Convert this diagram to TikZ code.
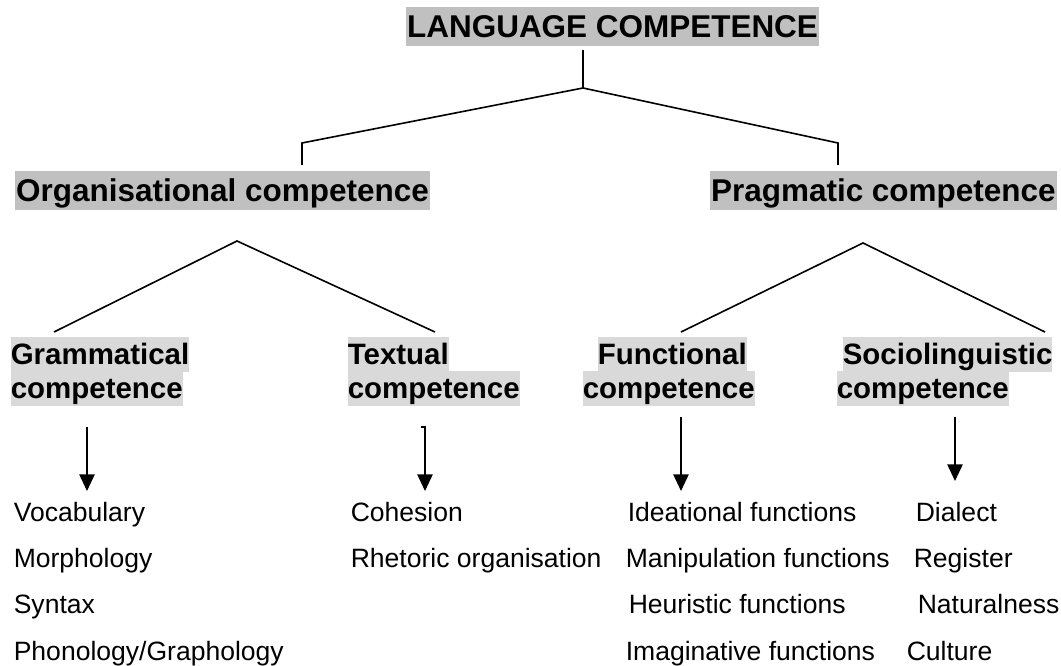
\documentclass[tikz,border=0pt]{standalone}
\usepackage{fontspec}
\setmainfont{Liberation Sans}
\usepackage{tikz}
\usetikzlibrary{arrows.meta}
\definecolor{hlDark}{RGB}{192,192,192}
\definecolor{hlLight}{RGB}{217,217,217}

\begin{document}
\begin{tikzpicture}[x=0.75pt, y=-0.75pt, >={Triangle[length=12.5pt,width=11.5pt]},
      line width=1.2pt,
      head/.style={fill=hlDark, anchor=base west, inner xsep=1pt, inner ysep=0pt, text height=23.5pt, text depth=5.8pt, font=\fontsize{23.6pt}{28pt}\selectfont\bfseries},
      sub/.style={fill=hlLight, anchor=base west, inner xsep=0pt, inner ysep=0pt, text height=20.3pt, text depth=5.6pt, font=\fontsize{22.1pt}{26pt}\selectfont\bfseries},
      leaf/.style={anchor=base west, inner sep=0pt, font=\fontsize{19.9pt}{24pt}\selectfont}]
      \useasboundingbox (0,0) rectangle (1061,666);
      \node[head] (lc)   at (405,38)  {LANGUAGE COMPETENCE};
      \node[head] (org)  at (14,202)  {Organisational competence};
      \node[head] (prag) at (709,202) {Pragmatic competence};
      \node[sub] (gramA) at (10,364.5)  {Grammatical\ };
      \node[sub] (gramB) at (10,398.5)  {competence};
      \node[sub] (textA) at (347,364.5) {Textual};
      \node[sub] (textB) at (347,398.5) {competence};
      \node[sub] (funcA) at (597,364.5) {Functional};
      \node[sub] (funcB) at (582,398.5) {competence};
      \node[sub] (socA)  at (842,364.5) {Sociolinguistic};
      \node[sub] (socB)  at (836,398.5) {competence};
      \node[leaf] (voc)  at (13,522)  {Vocabulary};
      \node[leaf] (mor)  at (13,568)  {Morphology};
      \node[leaf] (syn)  at (13,614)  {Syntax};
      \node[leaf] (pho)  at (13,660)  {Phonology/Graphology};
      \node[leaf] (coh)  at (350,522) {Cohesion};
      \node[leaf] (rhe)  at (350,568) {Rhetoric organisation};
      \node[leaf] (ide)  at (627,522) {Ideational functions};
      \node[leaf] (man)  at (625,568) {Manipulation functions};
      \node[leaf] (heu)  at (628,614) {Heuristic functions};
      \node[leaf] (ima)  at (625,660) {Imaginative functions};
      \node[leaf] (dia)  at (915,522) {Dialect};
      \node[leaf] (reg)  at (913,568) {Register};
      \node[leaf] (nat)  at (917,614) {Naturalness};
      \node[leaf] (cul)  at (906,660) {Culture};
      \coordinate (lcTop)   at (583,50);
      \coordinate (lcFork)  at (583,88);
      \coordinate (orgKnee) at (302,143);
      \coordinate (orgEnd)  at (302,165);
      \coordinate (pragKnee) at (838,143);
      \coordinate (pragEnd)  at (838,165);
      \coordinate (orgApex)  at (237,241);
      \coordinate (gramEnd)  at (54,332);
      \coordinate (textEnd)  at (435,332);
      \coordinate (pragApex) at (863,243);
      \coordinate (funcEnd)  at (681,332);
      \coordinate (socEnd)   at (1045,332);
      \coordinate (gramTop)  at (87,427);   \coordinate (gramTip) at (87,491);
      \coordinate (textHook) at (421,427);  \coordinate (textTop) at (425,427);
      \coordinate (textTip)  at (425,491);
      \coordinate (funcTop)  at (681,417);  \coordinate (funcTip) at (681,491);
      \coordinate (socTop)   at (955,417);  \coordinate (socTip)  at (955,481);
      \draw (lcTop) -- (lcFork);
      \draw (orgEnd) -- (orgKnee) -- (lcFork) -- (pragKnee) -- (pragEnd);
      \draw (gramEnd) -- (orgApex) -- (textEnd);
      \draw (funcEnd) -- (pragApex) -- (socEnd);
      \draw[->] (gramTop) -- (gramTip);
      \draw[->] (textHook) -- (textTop) -- (textTip);
      \draw[->] (funcTop) -- (funcTip);
      \draw[->] (socTop) -- (socTip);
    \end{tikzpicture}
\end{document}
